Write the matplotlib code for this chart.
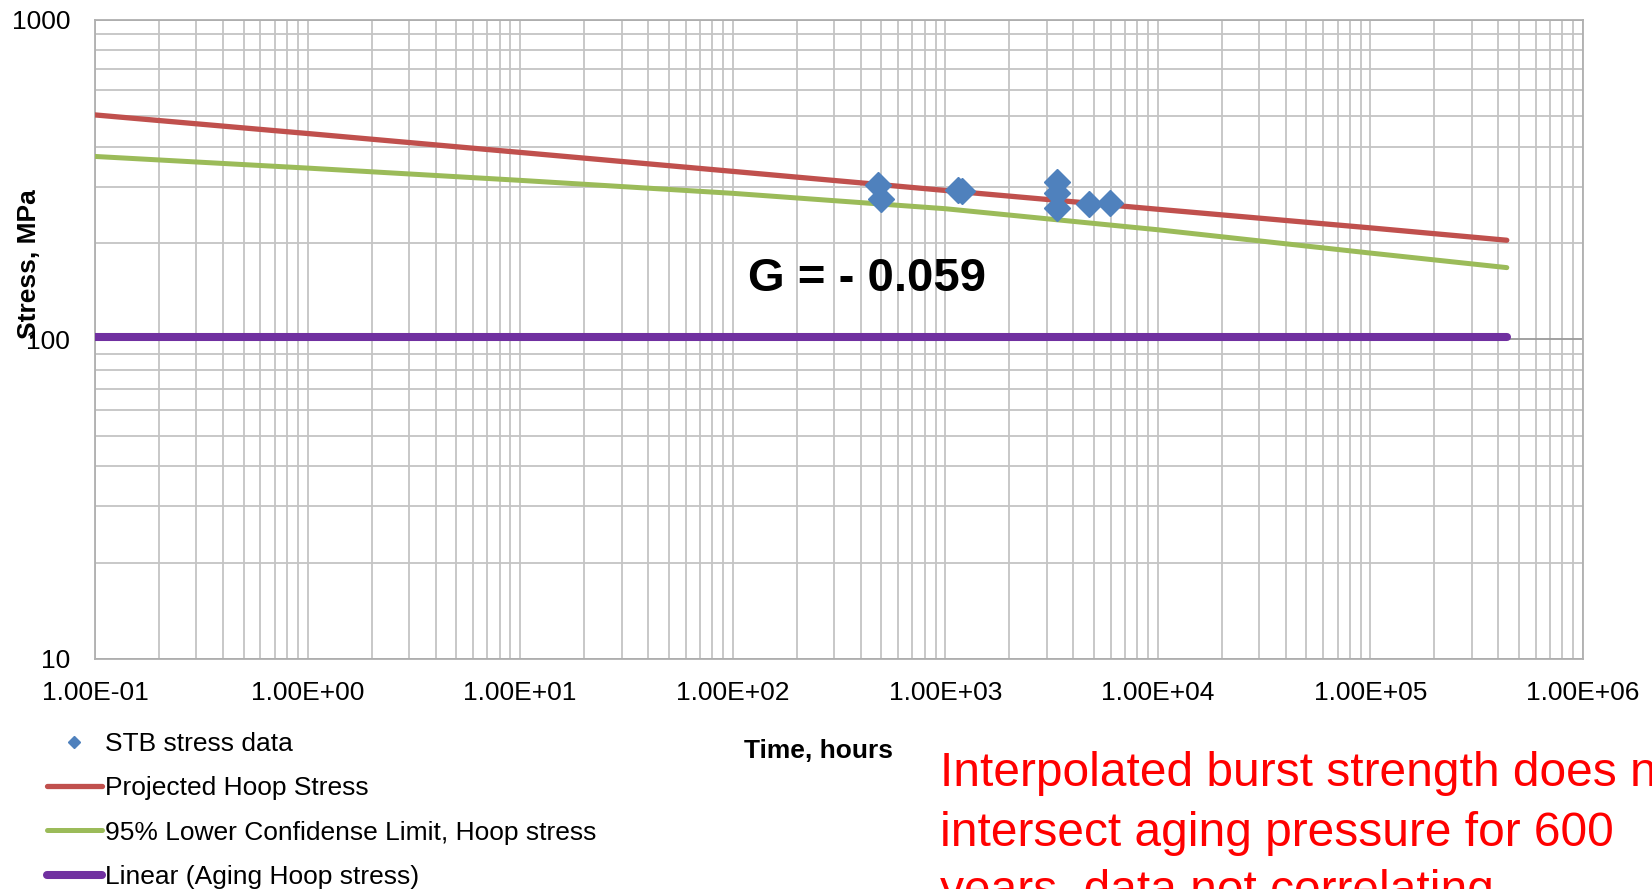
import matplotlib
matplotlib.use("Agg")
import matplotlib.pyplot as plt
from matplotlib.ticker import FixedLocator, FixedFormatter, LogLocator, NullFormatter

plt.rcParams['font.family'] = ['Liberation Sans', 'DejaVu Sans']

# ---- data ----
stb_time = [481, 501, 1150, 1200, 3350, 3350, 3350, 4750, 5950]
stb_stress = [304, 275, 293, 290, 311, 286, 257, 264, 267]

proj_time = [0.1, 1, 10, 100, 1000, 1e4, 1e5, 4.38e5]
proj_stress = [503, 440, 384, 335, 292, 255, 223, 204]

lcl_time = [0.1, 1, 10, 100, 1000, 1e4, 1e5, 4.38e5]
lcl_stress = [373, 343, 314, 286, 256, 220, 186, 167.5]

aging_time = [0.1, 4.38e5]
aging_stress = [102, 102]

x_ticks = [1e-1, 1e0, 1e1, 1e2, 1e3, 1e4, 1e5, 1e6]
x_tick_labels = ["1.00E-01", "1.00E+00", "1.00E+01", "1.00E+02",
                 "1.00E+03", "1.00E+04", "1.00E+05", "1.00E+06"]
y_ticks = [10, 100, 1000]
y_tick_labels = ["10", "100", "1000"]

labels = ["STB stress data", "Projected Hoop Stress",
          "95% Lower Confidense Limit, Hoop stress", "Linear (Aging Hoop stress)"]
annotation = "G = - 0.059"
note_lines = ["Interpolated burst strength does not",
              "intersect aging pressure for 600",
              "years, data not correlating"]

# ---- figure ----
W, H = 1652, 889
fig = plt.figure(figsize=(W / 100, H / 100), dpi=100)
ax = fig.add_axes([95 / W, 1 - 659 / H, (1583 - 95) / W, (659 - 19.5) / H])

ax.set_xscale('log')
ax.set_yscale('log')
ax.set_xlim(0.1, 1e6)
ax.set_ylim(10, 1000)

grid_c = '#C4C4C4'
ax.xaxis.set_major_locator(FixedLocator(x_ticks))
ax.xaxis.set_major_formatter(FixedFormatter(x_tick_labels))
ax.xaxis.set_minor_locator(LogLocator(base=10, subs=range(2, 10), numticks=50))
ax.xaxis.set_minor_formatter(NullFormatter())
ax.yaxis.set_major_locator(FixedLocator(y_ticks))
ax.yaxis.set_major_formatter(FixedFormatter(y_tick_labels))
ax.yaxis.set_minor_locator(LogLocator(base=10, subs=range(2, 10), numticks=50))
ax.yaxis.set_minor_formatter(NullFormatter())

ax.grid(which='major', axis='x', color=grid_c, lw=1.3)
ax.grid(which='minor', axis='both', color=grid_c, lw=1.3)
ax.grid(which='major', axis='y', color='#9A9A9A', lw=1.3)
ax.set_axisbelow(True)
for s in ax.spines.values():
    s.set_color('#B0B0B0')
    s.set_linewidth(1.3)

ax.tick_params(which='both', length=0)
ax.tick_params(axis='x', pad=16, labelsize=19, colors='black')
ax.tick_params(axis='y', pad=18, labelsize=19, colors='black')

ax.plot(aging_time, aging_stress, color='#7030A0', lw=5.8,
        solid_capstyle='round', label=labels[3], zorder=3)
ax.plot(lcl_time, lcl_stress, color='#9BBB59', lw=3.6,
        solid_capstyle='round', label=labels[2], zorder=3)
ax.plot(proj_time, proj_stress, color='#C0504D', lw=3.8,
        solid_capstyle='round', label=labels[1], zorder=3)
ax.plot(stb_time, stb_stress, linestyle='none', marker='D', ms=13,
        color='#4F81BD', label=labels[0], zorder=4)

ax.text(748 / W, 1 - 279 / H, annotation, transform=fig.transFigure,
        fontsize=34, fontweight='bold', ha='left', va='center')

fig.text(29 / W, 1 - 264 / H, "Stress, MPa", rotation=90, fontsize=19,
         fontweight='bold', ha='center', va='center')
fig.text(818 / W, 1 - 751 / H, "Time, hours", fontsize=19,
         fontweight='bold', ha='center', va='center')

handles, labs = ax.get_legend_handles_labels()
order = [3, 2, 1, 0]
leg = fig.legend([handles[i] for i in order], [labs[i] for i in order],
                 loc='upper left', bbox_to_anchor=(47 / W, 1 - 732 / H),
                 frameon=False, fontsize=19, handlelength=2.08,
                 handletextpad=0.12, labelspacing=0.77, borderpad=0,
                 borderaxespad=0, markerscale=0.5)

for i, line in enumerate(note_lines):
    fig.text(940 / W, 1 - (774 + 59 * i) / H, line, color='#FF0000',
             fontsize=34.5, ha='left', va='center')

fig.savefig('out.png', dpi=100)
